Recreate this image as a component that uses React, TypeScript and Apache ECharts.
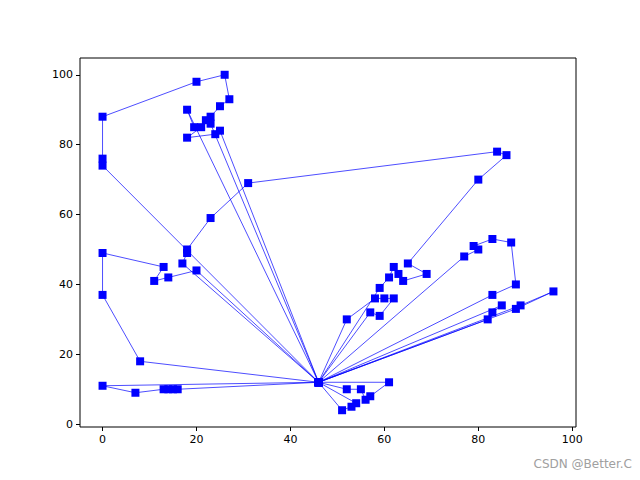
import React, { useEffect, useRef } from "react";
import * as echarts from "echarts";

const depot: [number, number] = [46, 12];

// each route starts and ends at the depot
const route1: [number, number][] = [[23, 86], [22, 87], [23, 88], [25, 91], [27, 93], [26, 100], [20, 98], [0, 88], [0, 76], [0, 74]];
const route2: [number, number][] = [[18, 90], [19.5, 85], [21, 85], [18, 82], [24, 83], [25, 84]];
const route3: [number, number][] = [[17, 46], [18, 49], [18, 50], [23, 59], [31, 69], [84, 78], [86, 77], [80, 70], [65, 46], [69, 43], [64, 41], [63, 43], [62, 45], [61, 42], [59, 39]];
const route4: [number, number][] = [[20, 44], [14, 42], [11, 41], [13, 45], [0, 49], [0, 37], [8, 18]];
const route5: [number, number][] = [[16, 10], [15, 10], [14, 10], [13, 10], [7, 9], [0, 11]];
const route6: [number, number][] = [[61, 12], [57, 8], [56, 7], [55, 10], [52, 10]];
const route7: [number, number][] = [[54, 6], [53, 5], [51, 4]];
const route8: [number, number][] = [[77, 48], [80, 50], [79, 51], [83, 53], [87, 52], [88, 40], [83, 37]];
const route9: [number, number][] = [[82, 30], [83, 32], [85, 34]];
const route10: [number, number][] = [[88, 33], [96, 38], [89, 34]];
const route11: [number, number][] = [[52, 30], [58, 36], [60, 36], [62, 36], [59, 31], [57, 32]];

const routes = [route1, route2, route3, route4, route5, route6, route7, route8, route9, route10, route11];

const xTicks = [0, 20, 40, 60, 80, 100];
const yTicks = [0, 20, 40, 60, 80, 100];

export default function App() {
  const ref = useRef<HTMLDivElement>(null);
  useEffect(() => {
    if (!ref.current) return;
    const chart = echarts.init(ref.current, undefined, { renderer: "svg" });
    const path: [number, number][] = [depot];
    routes.forEach((r) => {
      r.forEach((p) => path.push(p));
      path.push(depot);
    });
    const font = "DejaVu Sans";
    chart.setOption({
      animation: false,
      backgroundColor: "#ffffff",
      grid: {
        left: 80,
        right: 64,
        top: 58,
        bottom: 53,
        show: true,
        borderColor: "#000000",
        borderWidth: 1,
        backgroundColor: "transparent",
      },
      xAxis: {
        type: "value",
        min: -4.8,
        max: 100.8,
        splitLine: { show: false },
        axisLine: { show: false, onZero: false },
        axisTick: { show: true, inside: false, length: 4, customValues: xTicks, lineStyle: { color: "#000" } },
        axisLabel: { customValues: xTicks, color: "#000", fontSize: 11, fontFamily: font, margin: 7 },
      },
      yAxis: {
        type: "value",
        min: -0.8,
        max: 104.8,
        splitLine: { show: false },
        axisLine: { show: false, onZero: false },
        axisTick: { show: true, inside: false, length: 4, customValues: yTicks, lineStyle: { color: "#000" } },
        axisLabel: { customValues: yTicks, color: "#000", fontSize: 11, fontFamily: font, margin: 7 },
      },
      series: [
        {
          type: "line",
          data: path,
          symbol: "rect",
          symbolSize: 8,
          showSymbol: true,
          lineStyle: { color: "#0000ff", width: 0.7 },
          itemStyle: { color: "#0000ff" },
        },
      ],
      graphic: [
        {
          type: "text",
          right: 8,
          top: 458,
          style: { text: "CSDN @Better.C", fill: "#a0a0a0", fontSize: 12, fontFamily: font },
        },
      ],
    });
    return () => chart.dispose();
  }, []);
  return <div ref={ref} style={{ position: "fixed", left: 0, top: 0, width: 640, height: 480 }} />;
}
